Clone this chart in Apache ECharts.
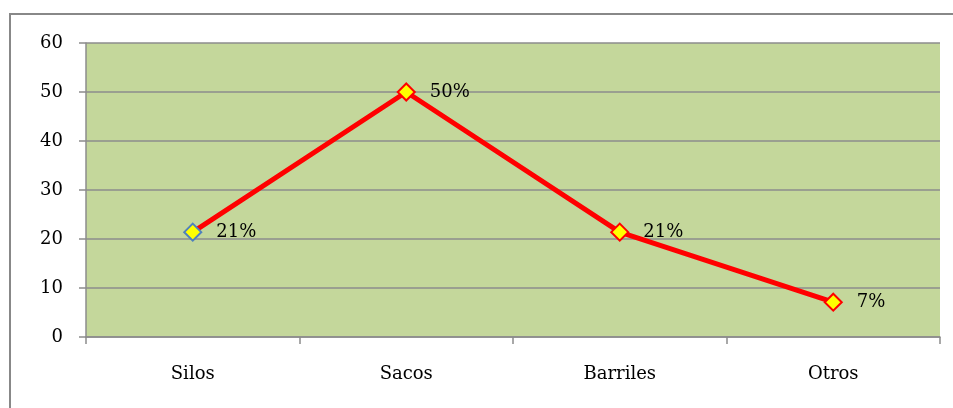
<!DOCTYPE html>
<html>
<head>
<meta charset="utf-8">
<script src="https://cdn.jsdelivr.net/npm/echarts@6/dist/echarts.min.js"></script>
<style>
  html, body { margin: 0; padding: 0; background: #fff; }
  #chart { width: 953px; height: 408px; }
</style>
</head>
<body>
<div id="chart"></div>
<script>
// Storage types and their share
const categories = ['Silos', 'Sacos', 'Barriles', 'Otros'];
const values = [21.4, 50, 21.4, 7.1];
const pointLabels = ['21%', '50%', '21%', '7%'];
const yTicks = { min: 0, max: 60, interval: 10 };

const font = '"DejaVu Serif", "Liberation Serif", serif';
const gridGray = '#8c8c8c';

const chart = echarts.init(document.getElementById('chart'), null, { renderer: 'canvas' });

const seriesData = values.map((v, i) => {
  const item = { value: v };
  if (i === 0) item.itemStyle = { borderColor: '#4f81bd' };
  return item;
});

chart.setOption({
  animation: false,
  graphic: [{
    type: 'rect',
    shape: { x: 10, y: 14, width: 960, height: 420 },
    style: { fill: 'none', stroke: '#888', lineWidth: 2 },
    z: -10
  }],
  grid: {
    left: 86, right: 13, top: 43, bottom: 71,
    show: true, backgroundColor: '#c4d79b', borderWidth: 0
  },
  xAxis: {
    type: 'category',
    data: categories,
    boundaryGap: true,
    axisLine: { show: true, lineStyle: { color: gridGray, width: 1.5 } },
    axisTick: { show: true, alignWithLabel: false, length: 7, lineStyle: { color: gridGray, width: 1.5 } },
    axisLabel: { color: '#000', fontFamily: font, fontSize: 18, margin: 28 },
    splitLine: { show: false }
  },
  yAxis: {
    type: 'value',
    min: yTicks.min, max: yTicks.max, interval: yTicks.interval,
    axisLine: { show: true, lineStyle: { color: gridGray, width: 1.5 } },
    axisTick: { show: true, length: 7, lineStyle: { color: gridGray, width: 1.5 } },
    axisLabel: { color: '#000', fontFamily: font, fontSize: 18, margin: 23 },
    splitLine: { show: true, lineStyle: { color: gridGray, width: 1.5 } }
  },
  series: [{
    type: 'line',
    data: seriesData,
    symbol: 'diamond',
    symbolSize: 17,
    lineStyle: { color: '#ff0000', width: 5 },
    itemStyle: { color: '#ffff00', borderColor: '#ff0000', borderWidth: 2 },
    label: {
      show: true,
      position: 'right',
      distance: 14,
      color: '#000',
      fontFamily: font,
      fontSize: 18,
      formatter: p => pointLabels[p.dataIndex]
    },
    z: 5
  }]
});
</script>
</body>
</html>
